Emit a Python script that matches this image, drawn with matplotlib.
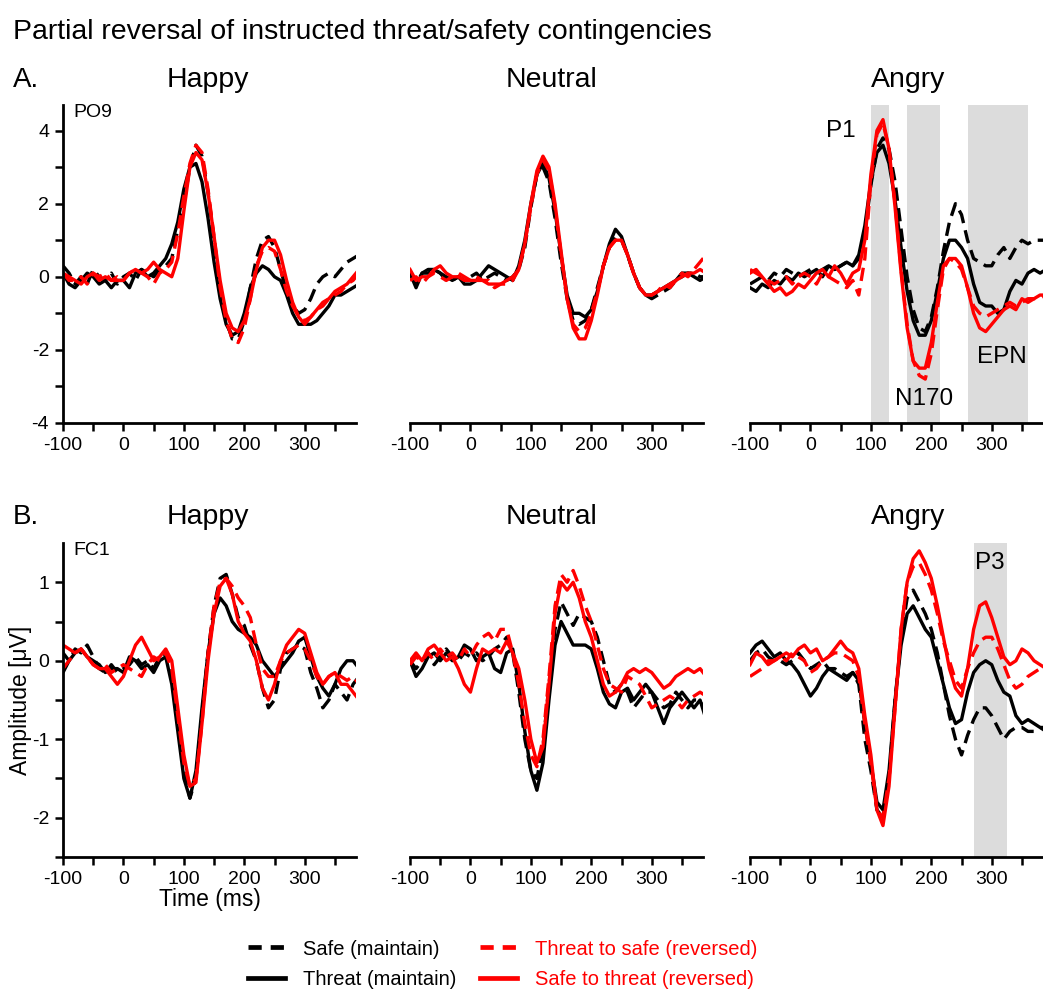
import matplotlib
matplotlib.use("Agg")
import matplotlib.pyplot as plt
from matplotlib.lines import Line2D

plt.rcParams['font.family'] = ['Liberation Sans', 'DejaVu Sans']
plt.rcParams['axes.unicode_minus'] = False

# time axis (ms), one value every 10 ms
times = list(range(-100, 400, 10))

emotions = ["Happy", "Neutral", "Angry"]

# ---- A. PO9 ----
po9_happy_safe = [0.3, 0.1, -0.2, 0.0, -0.2, 0.2, 0.0, -0.1, 0.1, -0.2,
                  0.0, 0.1, -0.1, 0.2, 0.1, 0.0, 0.2, 0.3, 0.5, 1.3,
                  2.0, 3.0, 3.6, 3.3, 2.3, 1.0, -0.3, -1.2, -1.7, -1.7,
                  -1.2, -0.3, 0.5, 1.0, 1.1, 0.8, 0.2, -0.4, -0.8, -1.0,
                  -0.9, -0.6, -0.2, 0.0, 0.1, 0.0, 0.2, 0.4, 0.5, 0.6]
po9_happy_threat = [0.1, -0.2, -0.3, -0.1, 0.1, 0.0, -0.2, -0.1, -0.3, -0.1,
                    -0.1, -0.3, 0.1, 0.2, 0.0, 0.1, 0.3, 0.5, 0.9, 1.5,
                    2.4, 3.0, 3.1, 2.6, 1.6, 0.4, -0.6, -1.3, -1.6, -1.5,
                    -1.0, -0.3, 0.1, 0.3, 0.2, 0.0, -0.1, -0.5, -1.0, -1.3,
                    -1.3, -1.3, -1.2, -1.0, -0.8, -0.5, -0.5, -0.4, -0.3, -0.2]
po9_happy_t2s = [0.1, -0.1, -0.1, 0.0, -0.2, 0.1, 0.0, 0.1, -0.1, 0.0,
                 -0.1, 0.1, 0.2, 0.1, 0.0, -0.2, 0.1, 0.2, 0.4, 1.2,
                 2.2, 3.1, 3.6, 3.4, 2.4, 1.1, -0.3, -1.2, -1.7, -1.8,
                 -1.4, -0.6, 0.3, 0.7, 0.8, 0.7, 0.2, -0.4, -0.8, -1.1,
                 -1.2, -1.1, -0.9, -0.8, -0.6, -0.5, -0.4, -0.2, -0.1, 0.1]
po9_happy_s2t = [0.1, 0.0, -0.1, -0.2, 0.0, 0.1, -0.1, 0.0, -0.1, -0.1,
                 -0.1, 0.1, 0.2, 0.1, 0.2, 0.4, 0.2, 0.1, 0.0, 0.5,
                 1.8, 3.0, 3.4, 3.2, 2.3, 1.1, -0.1, -1.0, -1.4, -1.5,
                 -1.2, -0.6, 0.2, 0.8, 1.0, 1.0, 0.6, -0.1, -0.7, -1.1,
                 -1.3, -1.1, -0.9, -0.7, -0.6, -0.4, -0.3, -0.2, 0.0, 0.2]

po9_neutral_safe = [0.1, -0.2, 0.1, 0.1, 0.2, 0.1, -0.1, -0.1, 0.0, -0.1,
                    0.0, 0.1, -0.1, 0.0, 0.1, 0.0, -0.1, 0.0, 0.2, 0.8,
                    1.9, 2.8, 3.0, 2.6, 1.6, 0.4, -0.6, -1.2, -1.3, -1.2,
                    -0.9, -0.3, 0.3, 0.8, 1.1, 1.0, 0.6, 0.1, -0.3, -0.5,
                    -0.6, -0.5, -0.4, -0.3, -0.1, 0.0, 0.1, 0.1, 0.0, 0.0]
po9_neutral_threat = [0.1, -0.3, 0.1, 0.2, 0.2, 0.1, 0.0, -0.1, 0.0, -0.2,
                      -0.2, -0.1, 0.1, 0.3, 0.2, 0.1, 0.0, -0.1, 0.3, 1.0,
                      2.0, 2.8, 3.1, 2.7, 1.8, 0.6, -0.5, -1.0, -1.0, -1.1,
                      -0.9, -0.4, 0.3, 0.9, 1.3, 1.1, 0.6, 0.1, -0.3, -0.5,
                      -0.5, -0.4, -0.3, -0.2, -0.1, 0.1, 0.1, 0.0, -0.1, 0.0]
po9_neutral_t2s = [-0.1, 0.0, -0.2, 0.0, 0.1, 0.0, -0.1, 0.0, 0.1, 0.0,
                   -0.1, 0.0, -0.1, -0.1, -0.3, -0.2, -0.2, -0.1, 0.2, 0.9,
                   1.9, 2.8, 3.2, 2.9, 1.9, 0.6, -0.6, -1.3, -1.5, -1.4,
                   -1.0, -0.4, 0.3, 0.8, 1.0, 1.0, 0.6, 0.1, -0.3, -0.5,
                   -0.5, -0.4, -0.2, -0.3, -0.1, 0.1, 0.0, 0.2, 0.4, 0.6]
po9_neutral_s2t = [0.2, -0.1, 0.0, 0.0, 0.2, 0.3, 0.1, 0.0, 0.0, -0.1,
                   -0.1, -0.1, -0.1, -0.2, -0.2, -0.2, -0.1, 0.0, 0.2, 0.9,
                   2.0, 2.9, 3.3, 3.0, 2.0, 0.7, -0.6, -1.4, -1.7, -1.7,
                   -1.2, -0.5, 0.3, 0.8, 1.0, 1.0, 0.6, 0.1, -0.3, -0.5,
                   -0.5, -0.4, -0.3, -0.2, -0.1, 0.0, 0.1, 0.1, 0.2, 0.1]

po9_angry_safe = [-0.2, -0.1, 0.0, -0.1, 0.1, 0.0, 0.2, 0.1, 0.0, 0.1,
                  0.2, 0.1, 0.2, 0.3, 0.2, 0.3, 0.4, 0.3, 0.5, 1.2,
                  2.5, 3.5, 3.8, 3.5, 2.6, 1.3, 0.0, -0.9, -1.4, -1.5,
                  -1.1, -0.3, 0.7, 1.5, 2.0, 1.7, 1.0, 0.5, 0.4, 0.3,
                  0.3, 0.6, 0.8, 0.5, 0.8, 1.0, 0.9, 1.0, 1.0, 1.0]
po9_angry_threat = [-0.3, -0.4, -0.2, -0.3, -0.1, -0.2, 0.0, -0.1, 0.1, 0.0,
                    0.1, 0.2, 0.0, 0.3, 0.2, 0.3, 0.4, 0.3, 0.6, 1.4,
                    2.6, 3.4, 3.6, 3.1, 2.1, 0.8, -0.4, -1.2, -1.6, -1.6,
                    -1.2, -0.4, 0.5, 1.0, 1.0, 0.8, 0.5, -0.2, -0.7, -0.8,
                    -0.8, -1.0, -0.9, -0.4, -0.1, -0.2, 0.1, 0.2, 0.1, 0.2]
po9_angry_t2s = [0.2, 0.1, 0.0, -0.1, -0.2, -0.1, 0.0, -0.2, 0.0, 0.1,
                 0.0, -0.2, 0.1, 0.0, -0.1, -0.2, -0.3, -0.1, -0.5, 0.5,
                 2.6, 3.9, 4.2, 3.5, 2.0, 0.2, -1.3, -2.3, -2.7, -2.8,
                 -2.1, -0.9, 0.2, 0.5, 0.4, 0.2, -0.3, -0.8, -1.0, -1.1,
                 -1.0, -0.9, -0.8, -0.7, -0.8, -0.7, -0.6, -0.6, -0.6, -0.5]
po9_angry_s2t = [0.1, 0.2, 0.0, -0.2, -0.4, -0.3, -0.5, -0.4, -0.2, -0.3,
                 -0.1, 0.1, 0.2, 0.0, 0.3, 0.1, -0.2, 0.1, 0.2, 1.0,
                 2.8, 4.0, 4.3, 3.5, 1.9, 0.1, -1.4, -2.3, -2.5, -2.5,
                 -1.8, -0.7, 0.3, 0.5, 0.5, 0.3, -0.3, -1.0, -1.4, -1.5,
                 -1.3, -1.1, -0.9, -0.8, -0.9, -0.6, -0.7, -0.6, -0.5, -0.5]

# ---- B. FC1 ----
fc1_happy_safe = [-0.15, 0.0, 0.15, 0.1, 0.2, 0.05, -0.1, -0.15, -0.05, -0.15,
                  -0.1, -0.05, 0.05, -0.05, 0.0, -0.1, 0.05, 0.1, -0.2, -0.8,
                  -1.4, -1.75, -1.5, -0.7, 0.1, 0.7, 1.05, 1.1, 0.85, 0.55,
                  0.45, 0.2, 0.0, -0.35, -0.6, -0.5, -0.1, 0.1, 0.15, 0.2,
                  0.15, -0.15, -0.35, -0.6, -0.5, -0.3, -0.4, -0.5, -0.3, -0.2]
fc1_happy_threat = [0.1, 0.0, 0.1, 0.15, 0.05, 0.0, -0.05, -0.15, -0.1, -0.1,
                    -0.15, 0.05, 0.0, -0.1, -0.05, -0.15, 0.0, 0.05, -0.3, -0.9,
                    -1.5, -1.75, -1.4, -0.6, 0.1, 0.6, 0.8, 0.7, 0.5, 0.4,
                    0.35, 0.3, 0.2, 0.0, -0.1, -0.2, -0.1, 0.0, 0.1, 0.25,
                    0.3, 0.05, -0.2, -0.35, -0.45, -0.3, -0.1, 0.0, 0.0, -0.1]
fc1_happy_t2s = [-0.1, 0.0, 0.1, 0.15, 0.05, -0.05, -0.1, -0.05, -0.15, -0.1,
                 -0.05, -0.1, -0.15, -0.2, -0.05, 0.05, 0.0, 0.1, -0.1, -0.7,
                 -1.3, -1.6, -1.5, -0.8, 0.1, 0.7, 1.0, 1.05, 0.95, 0.8,
                 0.7, 0.55, 0.2, -0.1, -0.2, -0.2, 0.0, 0.1, 0.15, 0.2,
                 0.15, 0.0, -0.2, -0.3, -0.2, -0.15, -0.2, -0.25, -0.2, -0.3]
fc1_happy_s2t = [0.2, 0.15, 0.1, 0.15, 0.05, -0.05, -0.1, -0.1, -0.2, -0.3,
                 -0.2, 0.0, 0.2, 0.3, 0.15, 0.0, 0.05, 0.15, 0.0, -0.6,
                 -1.2, -1.6, -1.55, -0.8, 0.0, 0.6, 0.95, 1.05, 0.85, 0.5,
                 0.35, 0.25, 0.0, -0.35, -0.5, -0.3, 0.0, 0.2, 0.3, 0.4,
                 0.35, 0.1, -0.15, -0.3, -0.2, -0.15, -0.3, -0.3, -0.4, -0.5]

fc1_neutral_safe = [0.0, -0.1, 0.0, 0.1, -0.05, 0.05, 0.15, 0.05, 0.0, 0.1,
                    0.05, 0.1, 0.0, 0.05, 0.15, 0.2, 0.3, 0.1, -0.4, -1.0,
                    -1.4, -1.5, -1.1, -0.3, 0.4, 0.75, 0.6, 0.45, 0.6, 0.55,
                    0.5, 0.3, 0.0, -0.3, -0.4, -0.3, -0.4, -0.6, -0.5, -0.4,
                    -0.4, -0.5, -0.6, -0.55, -0.4, -0.5, -0.6, -0.5, -0.5, -0.6]
fc1_neutral_threat = [0.0, -0.2, -0.1, 0.05, 0.1, 0.0, 0.1, 0.0, 0.05, 0.2,
                      0.15, 0.0, 0.05, 0.1, -0.1, -0.15, 0.1, 0.15, -0.3, -0.9,
                      -1.4, -1.65, -1.3, -0.5, 0.2, 0.5, 0.35, 0.2, 0.2, 0.2,
                      0.15, -0.1, -0.4, -0.55, -0.6, -0.4, -0.35, -0.5, -0.4, -0.3,
                      -0.4, -0.6, -0.8, -0.6, -0.5, -0.4, -0.5, -0.6, -0.5, -0.75]
fc1_neutral_t2s = [-0.05, 0.05, 0.0, 0.1, 0.0, 0.15, 0.05, 0.1, 0.0, 0.15,
                   0.05, 0.2, 0.3, 0.35, 0.25, 0.4, 0.4, 0.1, -0.3, -0.8,
                   -1.2, -1.35, -1.0, -0.2, 0.7, 1.1, 1.0, 1.15, 0.95, 0.7,
                   0.5, 0.2, -0.1, -0.3, -0.35, -0.4, -0.2, -0.25, -0.3, -0.45,
                   -0.6, -0.55, -0.5, -0.45, -0.5, -0.6, -0.5, -0.45, -0.4, -0.45]
fc1_neutral_s2t = [0.0, 0.1, 0.0, 0.15, 0.2, 0.1, 0.0, 0.05, -0.1, -0.3,
                   -0.4, -0.1, 0.15, 0.1, 0.15, 0.1, 0.25, 0.1, -0.1, -0.5,
                   -1.0, -1.3, -1.1, -0.3, 0.6, 1.0, 0.9, 1.0, 0.8, 0.5,
                   0.3, 0.0, -0.3, -0.45, -0.4, -0.3, -0.15, -0.1, -0.15, -0.1,
                   -0.15, -0.25, -0.35, -0.3, -0.2, -0.15, -0.1, -0.15, -0.1, -0.2]

fc1_angry_safe = [0.0, 0.1, 0.15, 0.05, 0.0, 0.0, -0.05, 0.0, 0.1, 0.0,
                  -0.1, -0.05, 0.0, -0.1, -0.1, -0.15, -0.2, -0.15, -0.3, -1.0,
                  -1.4, -1.9, -2.0, -1.5, -0.5, 0.3, 0.8, 0.9, 0.75, 0.6,
                  0.4, 0.1, -0.3, -0.7, -1.0, -1.2, -0.95, -0.75, -0.6, -0.6,
                  -0.7, -0.85, -1.0, -0.9, -0.85, -0.85, -0.9, -0.9, -0.85, -0.9]
fc1_angry_threat = [0.1, 0.2, 0.25, 0.15, 0.05, 0.1, 0.0, -0.05, -0.15, -0.3,
                    -0.45, -0.35, -0.2, -0.1, -0.15, -0.2, -0.25, -0.15, -0.25, -0.8,
                    -1.3, -1.8, -1.9, -1.4, -0.5, 0.2, 0.6, 0.7, 0.55, 0.4,
                    0.3, 0.0, -0.3, -0.6, -0.8, -0.75, -0.4, -0.15, -0.05, 0.0,
                    -0.05, -0.25, -0.4, -0.45, -0.7, -0.8, -0.75, -0.8, -0.85, -0.85]
fc1_angry_t2s = [-0.2, -0.15, -0.1, 0.0, 0.0, 0.05, 0.0, 0.1, 0.05, 0.0,
                 -0.15, -0.1, 0.0, 0.05, 0.1, 0.1, 0.05, 0.0, -0.2, -0.8,
                 -1.3, -1.9, -2.0, -1.5, -0.6, 0.4, 1.0, 1.2, 1.25, 1.1,
                 0.9, 0.6, 0.25, 0.0, -0.25, -0.35, -0.1, 0.1, 0.25, 0.3,
                 0.3, 0.15, -0.05, -0.25, -0.35, -0.3, -0.2, -0.15, -0.1, -0.1]
fc1_angry_s2t = [-0.05, 0.1, 0.05, -0.05, 0.0, 0.05, 0.1, 0.05, 0.15, 0.2,
                 0.1, 0.15, 0.0, 0.05, 0.15, 0.25, 0.15, 0.1, -0.1, -0.7,
                 -1.2, -1.9, -2.1, -1.6, -0.6, 0.4, 1.0, 1.3, 1.4, 1.25,
                 1.05, 0.7, 0.3, -0.1, -0.35, -0.45, -0.1, 0.4, 0.7, 0.75,
                 0.55, 0.3, 0.05, -0.05, 0.0, 0.15, 0.1, 0.0, -0.05, -0.1]

po9 = {
    "Happy": (po9_happy_safe, po9_happy_threat, po9_happy_t2s, po9_happy_s2t),
    "Neutral": (po9_neutral_safe, po9_neutral_threat, po9_neutral_t2s, po9_neutral_s2t),
    "Angry": (po9_angry_safe, po9_angry_threat, po9_angry_t2s, po9_angry_s2t),
}
fc1 = {
    "Happy": (fc1_happy_safe, fc1_happy_threat, fc1_happy_t2s, fc1_happy_s2t),
    "Neutral": (fc1_neutral_safe, fc1_neutral_threat, fc1_neutral_t2s, fc1_neutral_s2t),
    "Angry": (fc1_angry_safe, fc1_angry_threat, fc1_angry_t2s, fc1_angry_s2t),
}

legend_labels = ["Safe (maintain)", "Threat (maintain)",
                 "Threat to safe (reversed)", "Safe to threat (reversed)"]

# analysis windows (ms)
po9_windows = [(100, 130), (160, 215), (260, 360)]
fc1_windows = [(270, 325)]

RED = "#ff0000"
dash = (0, (4, 2.2))
styles = [("black", dash), ("black", "-"), (RED, dash), (RED, "-")]
LW = 2.4

x_ticks = list(range(-100, 400, 50))
x_ticklabels = [str(t) if t % 100 == 0 else "" for t in x_ticks]

fig = plt.figure(figsize=(10.43, 9.98), dpi=100)

lefts = [0.0604, 0.3931, 0.7191]
title_x = [0.1994, 0.5292, 0.8706]
width = 0.281


def draw_panel(ax, series, first, yticks, ylabels, ylim):
    for (color, ls), vals in zip(styles, series):
        ax.plot(times, vals, color=color, linestyle=ls, linewidth=LW)
    ax.set_xlim(-100, 385)
    ax.set_ylim(*ylim)
    ax.set_xticks(x_ticks)
    ax.set_xticklabels(x_ticklabels)
    for s in ["top", "right"]:
        ax.spines[s].set_visible(False)
    ax.spines["bottom"].set_linewidth(2.0)
    ax.spines["left"].set_linewidth(2.0)
    ax.tick_params(axis="both", direction="out", length=6, width=1.8,
                   labelsize=14, pad=4)
    if first:
        ax.set_yticks(yticks)
        ax.set_yticklabels(ylabels)
    else:
        ax.spines["left"].set_visible(False)
        ax.set_yticks([])


# Row A
for i, emo in enumerate(emotions):
    ax = fig.add_axes([lefts[i], 0.5762, width, 0.3186])
    if emo == "Angry":
        for a, b in po9_windows:
            ax.axvspan(a, b, color="#dcdcdc", lw=0, zorder=0)
    draw_panel(ax, po9[emo], i == 0, list(range(-4, 5)),
               ["-4", "", "-2", "", "0", "", "2", "", "4"], (-4, 4.7))
    fig.text(title_x[i], 0.92, emo, ha="center", va="center", fontsize=20.5)
    if i == 0:
        ax.text(0.035, 0.975, "PO9", transform=ax.transAxes, fontsize=14,
                va="center")
    if emo == "Angry":
        ax.text(50, 4.0, "P1", fontsize=17.5, ha="center", va="center")
        ax.text(188, -3.35, "N170", fontsize=17.5, ha="center", va="center")
        ax.text(316, -2.2, "EPN", fontsize=17.5, ha="center", va="center")

# Row B
for i, emo in enumerate(emotions):
    ax = fig.add_axes([lefts[i], 0.1413, width, 0.3146])
    if emo == "Angry":
        for a, b in fc1_windows:
            ax.axvspan(a, b, color="#dcdcdc", lw=0, zorder=0)
    yt = [-2.5, -2.0, -1.5, -1.0, -0.5, 0.0, 0.5, 1.0]
    draw_panel(ax, fc1[emo], i == 0, yt,
               ["", "-2", "", "-1", "", "0", "", "1"], (-2.5, 1.5))
    fig.text(title_x[i], 0.482, emo, ha="center", va="center", fontsize=20.5)
    if i == 0:
        ax.text(0.035, 0.975, "FC1", transform=ax.transAxes, fontsize=14,
                va="center")
        ax.set_ylabel("Amplitude [\u03bcV]", fontsize=16.5, labelpad=0)
        ax.set_xlabel("Time (ms)", fontsize=16.5, labelpad=0)
    if emo == "Angry":
        ax.text(297, 1.25, "P3", fontsize=17.5, ha="center", va="center")

fig.text(0.012, 0.968, "Partial reversal of instructed threat/safety contingencies",
         fontsize=20.5, va="center")
fig.text(0.012, 0.92, "A.", fontsize=20, va="center")
fig.text(0.012, 0.482, "B.", fontsize=20, va="center")

leg_dash = (0, (2.8, 1.9))
handles = [Line2D([], [], color=c, linestyle=(leg_dash if ls != "-" else "-"),
                  linewidth=3.4) for c, ls in styles]
leg = fig.legend(handles, legend_labels, ncol=2, loc="center",
                 bbox_to_anchor=(0.482, 0.034), frameon=False, fontsize=14.5,
                 handlelength=1.8, handletextpad=0.9, columnspacing=1.2,
                 labelspacing=0.55)
for txt, (c, _) in zip(leg.get_texts(), styles):
    txt.set_color(c)

fig.savefig("out.png", dpi=100)
